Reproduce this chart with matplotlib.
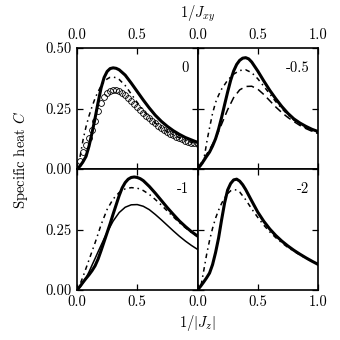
import matplotlib
matplotlib.use("Agg")
import matplotlib.pyplot as plt
import numpy as np

plt.rcParams['font.family'] = ['cmr10', 'DejaVu Serif']
plt.rcParams['mathtext.fontset'] = 'cm'
plt.rcParams['axes.formatter.use_mathtext'] = True
plt.rcParams['font.size'] = 10.5

# ---------------- data ----------------
# panel "0"
p0_thick_x = [0, 0.025, 0.05, 0.075, 0.1, 0.125, 0.15, 0.175, 0.2, 0.225, 0.25, 0.275, 0.3, 0.325,
              0.35, 0.4, 0.45, 0.5, 0.55, 0.6, 0.65, 0.7, 0.75, 0.8, 0.85, 0.9, 0.95, 1.0]
p0_thick_y = [0.0, 0.012, 0.03, 0.052, 0.095, 0.15, 0.21, 0.275, 0.335, 0.378, 0.403, 0.415, 0.418, 0.416,
              0.41, 0.388, 0.355, 0.32, 0.285, 0.252, 0.222, 0.197, 0.176, 0.158, 0.143, 0.13, 0.12, 0.11]
p0_dd_x = [0.025, 0.05, 0.075, 0.1, 0.125, 0.15, 0.175, 0.2, 0.225, 0.25, 0.275, 0.3, 0.325, 0.35,
           0.4, 0.45, 0.5, 0.55, 0.6, 0.65, 0.7, 0.75, 0.8, 0.85, 0.9, 0.95, 1.0]
p0_dd_y = [0.05, 0.12, 0.175, 0.22, 0.258, 0.292, 0.32, 0.343, 0.36, 0.372, 0.379, 0.38, 0.377, 0.37,
           0.345, 0.31, 0.275, 0.242, 0.214, 0.19, 0.17, 0.154, 0.14, 0.129, 0.119, 0.11, 0.103]
p0_circ_x = [0.025, 0.05, 0.075, 0.1, 0.125, 0.15, 0.175, 0.2, 0.225, 0.25, 0.275, 0.3, 0.325, 0.35,
             0.375, 0.4, 0.425, 0.45, 0.475, 0.5, 0.525, 0.55, 0.575, 0.6, 0.625, 0.65, 0.675, 0.7,
             0.725, 0.75, 0.775, 0.8, 0.825, 0.85, 0.875, 0.9, 0.925, 0.95, 0.975, 1.0]
p0_circ_y = [0.035, 0.07, 0.10, 0.13, 0.16, 0.20, 0.24, 0.272, 0.296, 0.312, 0.322, 0.328, 0.327, 0.322,
             0.314, 0.304, 0.293, 0.281, 0.268, 0.256, 0.244, 0.232, 0.22, 0.209, 0.199, 0.189, 0.178, 0.168,
             0.16, 0.152, 0.145, 0.139, 0.133, 0.127, 0.122, 0.117, 0.113, 0.109, 0.106, 0.103]

# panel "-0.5"
p05_thick_x = [0, 0.025, 0.05, 0.075, 0.1, 0.125, 0.15, 0.175, 0.2, 0.225, 0.25, 0.275, 0.3, 0.325, 0.35,
               0.375, 0.4, 0.425, 0.45, 0.5, 0.55, 0.6, 0.65, 0.7, 0.75, 0.8, 0.85, 0.9, 0.95, 1.0]
p05_thick_y = [0.0, 0.015, 0.033, 0.052, 0.07, 0.095, 0.125, 0.165, 0.213, 0.266, 0.318, 0.366, 0.405, 0.432,
               0.449, 0.458, 0.46, 0.455, 0.442, 0.405, 0.364, 0.325, 0.29, 0.258, 0.23, 0.207, 0.19, 0.176,
               0.164, 0.155]
p05_dd_x = [0.04, 0.06, 0.08, 0.1, 0.125, 0.15, 0.175, 0.2, 0.25, 0.3, 0.35, 0.4, 0.45, 0.5, 0.55, 0.6,
            0.65, 0.7, 0.75, 0.8, 0.85, 0.9, 0.95, 1.0]
p05_dd_y = [0.02, 0.06, 0.12, 0.17, 0.23, 0.275, 0.305, 0.33, 0.367, 0.392, 0.407, 0.41, 0.398, 0.373,
            0.342, 0.31, 0.278, 0.25, 0.224, 0.202, 0.185, 0.17, 0.158, 0.148]
p05_dash_x = [0.0, 0.05, 0.1, 0.15, 0.2, 0.25, 0.3, 0.35, 0.4, 0.45, 0.5, 0.55, 0.6, 0.65, 0.7, 0.75,
              0.8, 0.85, 0.9, 0.95, 1.0]
p05_dash_y = [0.0, 0.04, 0.08, 0.125, 0.185, 0.245, 0.295, 0.327, 0.341, 0.342, 0.33, 0.308, 0.282, 0.256,
              0.233, 0.213, 0.196, 0.18, 0.167, 0.156, 0.147]

# panel "-1"
p1_thick_x = [0, 0.025, 0.05, 0.075, 0.1, 0.125, 0.15, 0.175, 0.2, 0.225, 0.25, 0.275, 0.3, 0.325, 0.35,
              0.375, 0.4, 0.425, 0.45, 0.475, 0.5, 0.525, 0.55, 0.6, 0.65, 0.7, 0.75, 0.8, 0.85, 0.9,
              0.95, 1.0]
p1_thick_y = [0.0, 0.015, 0.032, 0.048, 0.063, 0.08, 0.1, 0.128, 0.163, 0.2, 0.237, 0.274, 0.314, 0.352,
              0.39, 0.422, 0.444, 0.458, 0.465, 0.467, 0.465, 0.46, 0.452, 0.428, 0.4, 0.37, 0.34, 0.312,
              0.285, 0.262, 0.241, 0.223]
p1_dd_x = [0.03, 0.05, 0.075, 0.1, 0.125, 0.15, 0.175, 0.2, 0.25, 0.3, 0.35, 0.4, 0.45, 0.5, 0.55, 0.6,
           0.65, 0.7, 0.75, 0.8, 0.85, 0.9, 0.95, 1.0]
p1_dd_y = [0.03, 0.055, 0.09, 0.125, 0.16, 0.195, 0.232, 0.27, 0.333, 0.376, 0.403, 0.418, 0.423, 0.421,
           0.411, 0.395, 0.374, 0.351, 0.326, 0.302, 0.278, 0.257, 0.238, 0.221]
p1_thin_x = [0, 0.025, 0.05, 0.075, 0.1, 0.125, 0.15, 0.175, 0.2, 0.225, 0.25, 0.3, 0.35, 0.4, 0.45, 0.5,
             0.55, 0.6, 0.65, 0.7, 0.75, 0.8, 0.85, 0.9, 0.95, 1.0]
p1_thin_y = [0.0, 0.012, 0.03, 0.05, 0.075, 0.103, 0.13, 0.158, 0.185, 0.212, 0.238, 0.285, 0.32, 0.342,
             0.352, 0.353, 0.346, 0.332, 0.312, 0.29, 0.267, 0.244, 0.222, 0.202, 0.184, 0.168]

# panel "-2"
p2_thick_x = [0, 0.025, 0.05, 0.075, 0.1, 0.125, 0.15, 0.175, 0.2, 0.225, 0.25, 0.275, 0.3, 0.325, 0.35,
              0.375, 0.4, 0.45, 0.5, 0.55, 0.6, 0.65, 0.7, 0.75, 0.8, 0.85, 0.9, 0.95, 1.0]
p2_thick_y = [0.0, 0.015, 0.032, 0.05, 0.07, 0.105, 0.155, 0.215, 0.29, 0.36, 0.413, 0.44, 0.455, 0.458,
              0.45, 0.435, 0.415, 0.368, 0.322, 0.284, 0.252, 0.225, 0.202, 0.182, 0.164, 0.148, 0.133,
              0.119, 0.106]
p2_dd_x = [0.03, 0.05, 0.075, 0.1, 0.125, 0.15, 0.175, 0.2, 0.225, 0.25, 0.275, 0.3, 0.325, 0.35, 0.4,
           0.45, 0.5, 0.55, 0.6, 0.65, 0.7, 0.75, 0.8, 0.85, 0.9, 0.95, 1.0]
p2_dd_y = [0.02, 0.075, 0.145, 0.205, 0.255, 0.297, 0.33, 0.358, 0.38, 0.398, 0.41, 0.415, 0.413, 0.405,
           0.373, 0.335, 0.3, 0.268, 0.24, 0.216, 0.195, 0.176, 0.16, 0.145, 0.131, 0.118, 0.106]

panel_labels = ["0", "-0.5", "-1", "-2"]
x_ticks = [0.0, 0.5, 1.0]
y_ticks = [0.0, 0.25, 0.5]

# ---------------- figure ----------------
fig = plt.figure(figsize=(3.4, 3.4), dpi=100)
L, R, T, B = 77 / 340, 318 / 340, 1 - 48 / 340, 1 - 290 / 340
W = (R - L) / 2
H = (T - B) / 2

axes = []
for row in range(2):
    for col in range(2):
        ax = fig.add_axes([L + col * W, T - (row + 1) * H, W, H])
        axes.append(ax)

DD = (0, (3, 2.5, 1, 2.5))
THICK = 2.2
THIN = 1.1

a = axes[0]
a.plot(p0_circ_x, p0_circ_y, 'o', ms=4.2, mfc='none', mec='black', mew=0.6, zorder=2)
a.plot(p0_dd_x, p0_dd_y, color='black', lw=1.1, ls=DD, zorder=3)
a.plot(p0_thick_x, p0_thick_y, color='black', lw=THICK, zorder=4)

a = axes[1]
a.plot(p05_dash_x, p05_dash_y, color='black', lw=1.1, ls=(0, (5, 3)), zorder=2)
a.plot(p05_dd_x, p05_dd_y, color='black', lw=1.1, ls=DD, zorder=3)
a.plot(p05_thick_x, p05_thick_y, color='black', lw=THICK, zorder=4)

a = axes[2]
a.plot(p1_thin_x, p1_thin_y, color='black', lw=THIN, zorder=2)
a.plot(p1_dd_x, p1_dd_y, color='black', lw=1.1, ls=DD, zorder=3)
a.plot(p1_thick_x, p1_thick_y, color='black', lw=THICK, zorder=4)

a = axes[3]
a.plot(p2_dd_x, p2_dd_y, color='black', lw=1.1, ls=DD, zorder=3)
a.plot(p2_thick_x, p2_thick_y, color='black', lw=THICK, zorder=4)

for i, ax in enumerate(axes):
    row, col = divmod(i, 2)
    ax.set_xlim(0, 1)
    ax.set_ylim(0, 0.5)
    ax.set_xticks(x_ticks)
    ax.set_yticks(y_ticks)
    ax.tick_params(direction='in', top=True, bottom=True, left=True, right=True,
                   length=4, width=0.9, labelsize=10.5, pad=4,
                   labeltop=(row == 0), labelbottom=(row == 1),
                   labelleft=(col == 0), labelright=False)
    ax.xaxis.set_major_formatter(matplotlib.ticker.FormatStrFormatter('%.1f'))
    ax.yaxis.set_major_formatter(matplotlib.ticker.FormatStrFormatter('%.2f'))
    for s in ax.spines.values():
        s.set_linewidth(1.2)
    ax.text(0.93, 0.83, panel_labels[i], transform=ax.transAxes, ha='right', va='center',
            fontsize=10.5)

fig.canvas.draw()
for i, ax in enumerate(axes):
    row, col = divmod(i, 2)
    if col == 0:
        ticks = ax.xaxis.get_major_ticks()
        ticks[-1].label1.set_visible(False)
        ticks[-1].label2.set_visible(False)
    if row == 1:
        ticks = ax.yaxis.get_major_ticks()
        ticks[-1].label1.set_visible(False)

fig.text(0.06, 0.53, r'Specific heat $C$', rotation=90, ha='center', va='center', fontsize=10.5)
fig.text((L + R) / 2, 0.958, r'$1/J_{xy}$', ha='center', va='center', fontsize=10.5)
fig.text((L + R) / 2, 0.05, r'$1/|J_z|$', ha='center', va='center', fontsize=10.5)

fig.savefig('out.png', dpi=100)
